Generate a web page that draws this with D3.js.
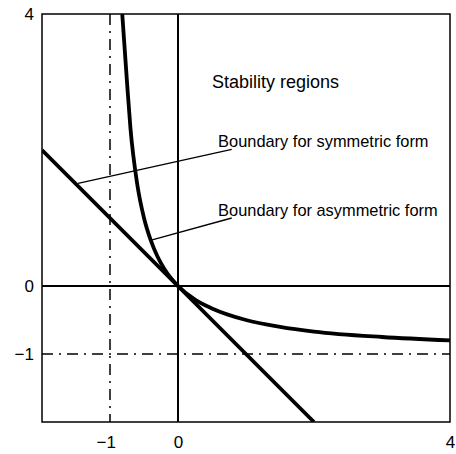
<!DOCTYPE html>
<html>
<head>
<meta charset="utf-8">
<script src="https://cdn.jsdelivr.net/npm/d3@7"></script>
<style>
  body { margin: 0; background: #fff; }
  svg { display: block; font-family: "Liberation Sans", Arial, sans-serif; }
  .ax .domain { display: none; }
</style>
</head>
<body>
<svg id="chart" width="456" height="454"></svg>
<script>
// values
var xDomain = [-2, 4]
var yDomain = [-2, 4]
var xTicks = [-1, 0, 4]
var yTicks = [-1, 0, 4]

// boundary for symmetric form (straight line)
var symX = [-2, 2]
var symY = [2, -2]

// boundary for asymmetric form (curve)
var asymX = [-0.82, -0.75, -0.7, -0.6, -0.5, -0.4, -0.3, -0.2, -0.1, 0, 0.25, 0.5, 1, 1.5, 2, 3, 4]
var asymY = [4.0, 3.0, 2.33, 1.5, 1.0, 0.67, 0.43, 0.25, 0.11, 0, -0.2, -0.33, -0.5, -0.6, -0.67, -0.75, -0.8]

// dash-dot reference lines
var refX = -1
var refY = -1

// annotations
var notes = [
  {text: 'Stability regions', x: 0.5, y: 2.91, size: 18},
  {text: 'Boundary for symmetric form', x: 0.59, y: 2.04, size: 16.4},
  {text: 'Boundary for asymmetric form', x: 0.59, y: 1.03, size: 16.4}
]
var leaders = [
  {x1: -1.47, y1: 1.51, x2: 0.79, y2: 2.01},
  {x1: -0.38, y1: 0.68, x2: 0.79, y2: 1.0}
]

var margin = {top: 14, left: 42}
var w = 408
var h = 408

var svg = d3.select('#chart')
var g = svg.append('g')
    .attr('transform', `translate(${margin.left},${margin.top})`)

var mapx = d3.scaleLinear().domain(xDomain).range([0, w])
var mapy = d3.scaleLinear().domain(yDomain).range([h, 0])

// dash-dot lines
g.append('line')
    .attr('x1', mapx(refX)).attr('x2', mapx(refX))
    .attr('y1', 0).attr('y2', h)
    .attr('stroke', '#000').attr('stroke-width', 1.5)
    .attr('stroke-dasharray', '11,6,2,6')
g.append('line')
    .attr('x1', 0).attr('x2', w)
    .attr('y1', mapy(refY)).attr('y2', mapy(refY))
    .attr('stroke', '#000').attr('stroke-width', 1.5)
    .attr('stroke-dasharray', '11,6,2,6')

// zero axes
g.append('line')
    .attr('x1', mapx(0)).attr('x2', mapx(0))
    .attr('y1', 0).attr('y2', h)
    .attr('stroke', '#000').attr('stroke-width', 2)
g.append('line')
    .attr('x1', 0).attr('x2', w)
    .attr('y1', mapy(0)).attr('y2', mapy(0))
    .attr('stroke', '#000').attr('stroke-width', 2)

// clip for the curves
g.append('clipPath').attr('id', 'clip')
    .append('rect').attr('width', w).attr('height', h)

var line = d3.line()
    .x(d => mapx(d[0]))
    .y(d => mapy(d[1]))

g.append('path')
    .attr('clip-path', 'url(#clip)')
    .attr('d', line(d3.zip(symX, symY)))
    .attr('fill', 'none').attr('stroke', '#000').attr('stroke-width', 3.8)

g.append('path')
    .attr('clip-path', 'url(#clip)')
    .attr('d', line.curve(d3.curveMonotoneX)(d3.zip(asymX, asymY)))
    .attr('fill', 'none').attr('stroke', '#000').attr('stroke-width', 3.8)

// leader lines
g.selectAll('.leader')
    .data(leaders)
    .enter().append('line')
    .classed('leader', true)
    .attr('x1', d => mapx(d.x1)).attr('y1', d => mapy(d.y1))
    .attr('x2', d => mapx(d.x2)).attr('y2', d => mapy(d.y2))
    .attr('stroke', '#000').attr('stroke-width', 1.3)

// labels
g.selectAll('.note')
    .data(notes)
    .enter().append('text')
    .classed('note', true)
    .attr('x', d => mapx(d.x))
    .attr('y', d => mapy(d.y))
    .style('font-size', d => d.size + 'px')
    .text(d => d.text)

// frame
g.append('rect')
    .attr('width', w).attr('height', h)
    .attr('fill', 'none').attr('stroke', '#000').attr('stroke-width', 1.5)

// axes
var fmt = d => d < 0 ? '\u2212' + Math.abs(d) : String(d)

var xa = g.append('g').classed('ax x', true)
    .attr('transform', `translate(0,${h})`)
    .call(d3.axisBottom(mapx).tickValues(xTicks).tickSize(0).tickPadding(14).tickFormat(fmt))
xa.selectAll('text')
    .attr('dx', d => d < 0 ? '-0.25em' : 0)

var ya = g.append('g').classed('ax y', true)
    .call(d3.axisLeft(mapy).tickValues(yTicks).tickSize(0).tickPadding(8).tickFormat(fmt))

svg.selectAll('.ax')
    .attr('font-family', null)
    .attr('font-size', null)
svg.selectAll('.ax text')
    .style('font-size', '17px')
    .style('fill', '#000')
</script>
</body>
</html>
